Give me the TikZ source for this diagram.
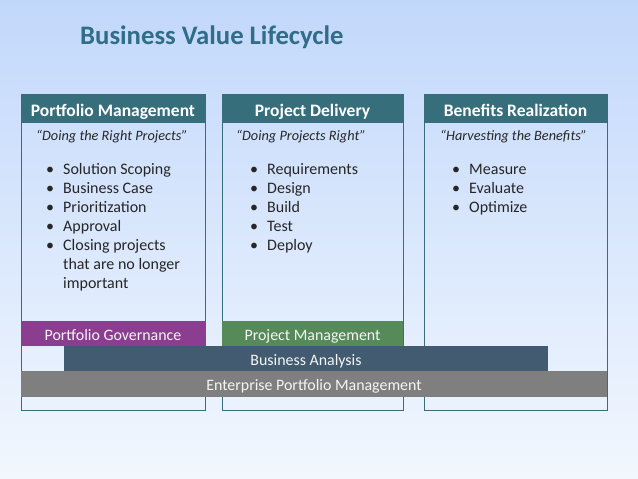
\documentclass[tikz,border=0pt]{standalone}
\usepackage{fontspec}
\setmainfont{Carlito}
\definecolor{bgtop}{RGB}{194,216,251}
\definecolor{bgbottom}{RGB}{242,247,254}
\definecolor{headteal}{RGB}{55,110,124}
\definecolor{titleblue}{RGB}{49,108,136}
\definecolor{govpurple}{RGB}{139,62,144}
\definecolor{mgmtgreen}{RGB}{86,138,88}
\definecolor{analysisslate}{RGB}{67,91,112}
\definecolor{eportgrey}{RGB}{127,127,127}
\definecolor{bodytext}{RGB}{38,38,38}
\newcommand{\bul}[1]{\makebox[17pt][l]{\textbullet}#1}
\begin{document}
\begin{tikzpicture}[x=1pt, y=-1pt,
  colbox/.style={draw=headteal, line width=1pt, inner sep=0pt},
  head/.style={fill=headteal, text=white, inner sep=0pt,
    font=\fontsize{17.5}{20}\selectfont\bfseries,
    minimum width=#1, minimum height=29pt, text height=17pt, text depth=2pt},
  quote/.style={anchor=base west, inner sep=0pt, text=bodytext,
    font=\fontsize{14.3}{17}\selectfont\itshape},
  item/.style={anchor=base west, inner sep=0pt, text=bodytext,
    font=\fontsize{16}{19}\selectfont},
  bar/.style={fill=#1, text=white!96!black, inner sep=0pt,
    font=\fontsize{15.9}{18}\selectfont,
    text height=15pt, text depth=2pt}]
  % background
  \useasboundingbox (0,0) rectangle (638,479);
  \shade[top color=bgtop, bottom color=bgbottom] (0,0) rectangle (638,479);
  % title
  \node (title) [anchor=base west, inner sep=0pt, text=titleblue,
    font=\fontsize{26.7}{30}\selectfont\bfseries] at (80,45) {Business Value Lifecycle};
  % columns
  \node (pmcol) [colbox, minimum width=184pt, minimum height=316pt] at (113,252) {};
  \node (pdcol) [colbox, minimum width=181pt, minimum height=316pt] at (312.5,252) {};
  \node (brcol) [colbox, minimum width=183pt, minimum height=316pt] at (515.5,252) {};
  \node (pmhead) [head=184pt] at (113,108.5) {Portfolio Management};
  \node (pdhead) [head=181pt] at (312.5,108.5) {Project Delivery};
  \node (brhead) [head=183pt] at (515.5,108.5) {Benefits Realization};
  % quotes
  \node (pmquote) [quote] at (36,140) {“Doing the Right Projects”};
  \node (pdquote) [quote] at (236,140) {“Doing Projects Right”};
  \node (brquote) [quote] at (440,140) {“Harvesting the Benefits”};
  % bullets
  \foreach \txt [count=\i] in {Solution Scoping, Business Case, Prioritization, Approval, Closing projects}
    \node (pmitem\i) [item] at (46,155+19*\i) {\bul{\txt}};
  \node (pmwrap1) [item] at (63,269) {that are no longer};
  \node (pmwrap2) [item] at (63,288) {important};
  \foreach \txt [count=\i] in {Requirements, Design, Build, Test, Deploy}
    \node (pditem\i) [item] at (250,155+19*\i) {\bul{\txt}};
  \foreach \txt [count=\i] in {Measure, Evaluate, Optimize}
    \node (britem\i) [item] at (452,155+19*\i) {\bul{\txt}};
  % bars
  \node (pgov) [bar=govpurple, minimum width=184pt, minimum height=25pt] at (113,333.5) {Portfolio Governance};
  \node (pmgmt) [bar=mgmtgreen, minimum width=181pt, minimum height=25pt] at (312.5,333.5) {Project Management};
  \node (banal) [bar=analysisslate, minimum width=484pt, minimum height=25pt] at (306,358.5) {Business Analysis};
  \node (eport) [bar=eportgrey, minimum width=586pt, minimum height=26pt] at (314,384) {Enterprise Portfolio Management};
\end{tikzpicture}
\end{document}
